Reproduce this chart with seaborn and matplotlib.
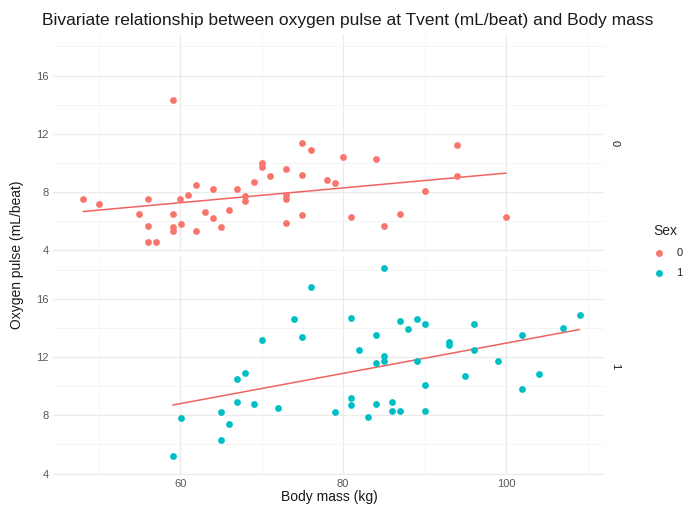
import numpy as np
import pandas as pd
import matplotlib
matplotlib.use("Agg")
import matplotlib.pyplot as plt
from matplotlib.lines import Line2D
from matplotlib.ticker import MultipleLocator
import seaborn as sns

# Body mass (kg) and oxygen pulse at Tvent (mL/beat), by sex
mass_sex0 = [48.1, 50.0, 55.0, 56.0, 56.0, 56.0, 57.0, 59.1, 59.1, 59.1, 59.1, 60.0,
             60.1, 61.0, 62.0, 62.0, 63.0, 64.0, 64.0, 65.0, 66.0, 67.0, 68.0, 68.0,
             69.0, 70.0, 70.0, 71.0, 73.0, 73.0, 73.0, 73.0, 75.0, 75.0, 75.0, 76.0,
             78.0, 79.0, 80.0, 81.0, 84.0, 85.0, 87.0, 90.0, 94.0, 94.0, 100.0]
pulse_sex0 = [7.5, 7.2, 6.5, 7.5, 5.7, 4.6, 4.6, 14.3, 6.5, 5.6, 5.3, 7.5,
              5.8, 7.8, 8.5, 5.3, 6.6, 8.2, 6.2, 5.6, 6.8, 8.2, 7.7, 7.4,
              8.7, 10.0, 9.7, 9.1, 9.6, 7.8, 7.5, 5.9, 11.4, 9.2, 6.4, 10.9,
              8.8, 8.6, 10.4, 6.3, 10.3, 5.7, 6.5, 8.1, 11.2, 9.1, 6.3]

mass_sex1 = [59.1, 60.1, 65.0, 65.0, 66.0, 67.0, 67.0, 68.0, 69.0, 70.0, 72.0, 74.0,
             75.0, 76.0, 79.0, 81.0, 81.0, 81.0, 82.0, 83.0, 84.0, 84.0, 84.0, 85.0,
             85.0, 85.0, 86.0, 86.0, 87.0, 87.0, 88.0, 89.0, 89.0, 90.0, 90.0, 90.0,
             93.0, 93.0, 95.0, 96.0, 96.0, 99.0, 102.0, 102.0, 104.0, 107.0, 109.0]
pulse_sex1 = [5.2, 7.8, 8.2, 6.3, 7.4, 10.5, 8.9, 10.9, 8.8, 13.2, 8.5, 14.6,
              13.4, 16.8, 8.2, 14.7, 9.2, 8.7, 12.5, 7.9, 13.5, 11.6, 8.8, 18.1,
              12.1, 11.7, 8.9, 8.3, 14.5, 8.3, 13.9, 14.6, 11.7, 14.3, 10.1, 8.3,
              13.0, 12.8, 10.7, 14.3, 12.5, 11.7, 13.5, 9.8, 10.8, 14.0, 14.9]

sex_levels = ["0", "1"]
x_ticks = [60, 80, 100]
y_ticks = [4, 8, 12, 16]

df = pd.DataFrame({
    "mass": mass_sex0 + mass_sex1,
    "pulse": pulse_sex0 + pulse_sex1,
    "Sex": ["0"] * len(mass_sex0) + ["1"] * len(mass_sex1),
})

palette = {"0": "#F8766D", "1": "#00BFC4"}
line_color = "#EE6460"

sns.set_theme(style="white")
plt.rcParams["font.family"] = ["Liberation Sans", "DejaVu Sans"]

W, H = 687, 509
fig, axes = plt.subplots(2, 1, figsize=(W / 100, H / 100), dpi=100, sharex=True, sharey=True)
fig.subplots_adjust(left=53 / W, right=604 / W, top=1 - 34 / H, bottom=1 - 475 / H,
                    hspace=5.5 / 218)

for ax, level in zip(axes, sex_levels):
    sub = df[df["Sex"] == level]
    ax.set_axisbelow(True)
    sns.scatterplot(data=sub, x="mass", y="pulse", color=palette[level], s=24,
                    linewidth=0, ax=ax, legend=False, zorder=3)
    sns.regplot(data=sub, x="mass", y="pulse", scatter=False, ci=None, ax=ax,
                line_kws={"color": line_color, "linewidth": 1.1, "zorder": 2})
    ax.set_xlim(44.4, 112)
    ax.set_ylim(3.9, 18.85)
    ax.set_xticks(x_ticks)
    ax.set_yticks(y_ticks)
    ax.xaxis.set_minor_locator(MultipleLocator(10))
    ax.yaxis.set_minor_locator(MultipleLocator(2))
    ax.grid(True, which="major", color="#EBEBEB", linewidth=1.0)
    ax.grid(True, which="minor", color="#F3F3F3", linewidth=0.6)
    for s in ax.spines.values():
        s.set_visible(False)
    ax.tick_params(which="both", length=0, labelsize=8, labelcolor="#595959", pad=3)
    ax.set_xlabel("")
    ax.set_ylabel("")
    # facet strip label on the right
    ax.text(1.02, 0.5, level, transform=ax.transAxes, rotation=270, ha="center",
            va="center", fontsize=8, color="#1A1A1A")

axes[0].tick_params(axis="x", labelbottom=False)

fig.text(329 / W, 1 - 497 / H, "Body mass (kg)", ha="center", va="center",
         fontsize=10, color="#1A1A1A")
fig.text(17 / W, 1 - 255 / H, "Oxygen pulse (mL/beat)", ha="center", va="center",
         rotation=90, fontsize=10, color="#1A1A1A")
fig.text(42 / W, 1 - 20 / H,
         "Bivariate relationship between oxygen pulse at Tvent (mL/beat) and Body mass",
         ha="left", va="center", fontsize=12.5, color="#1A1A1A")

handles = [Line2D([0], [0], marker="o", linestyle="", markersize=5,
                  markerfacecolor=palette[l], markeredgewidth=0) for l in sex_levels]
fig.legend(handles, sex_levels, title="Sex", loc="upper left",
           bbox_to_anchor=(643 / W, 1 - 220 / H), frameon=False, fontsize=8,
           title_fontsize=10, handletextpad=0.6, labelspacing=0.9, borderaxespad=0)

fig.savefig("out.png", dpi=100)
